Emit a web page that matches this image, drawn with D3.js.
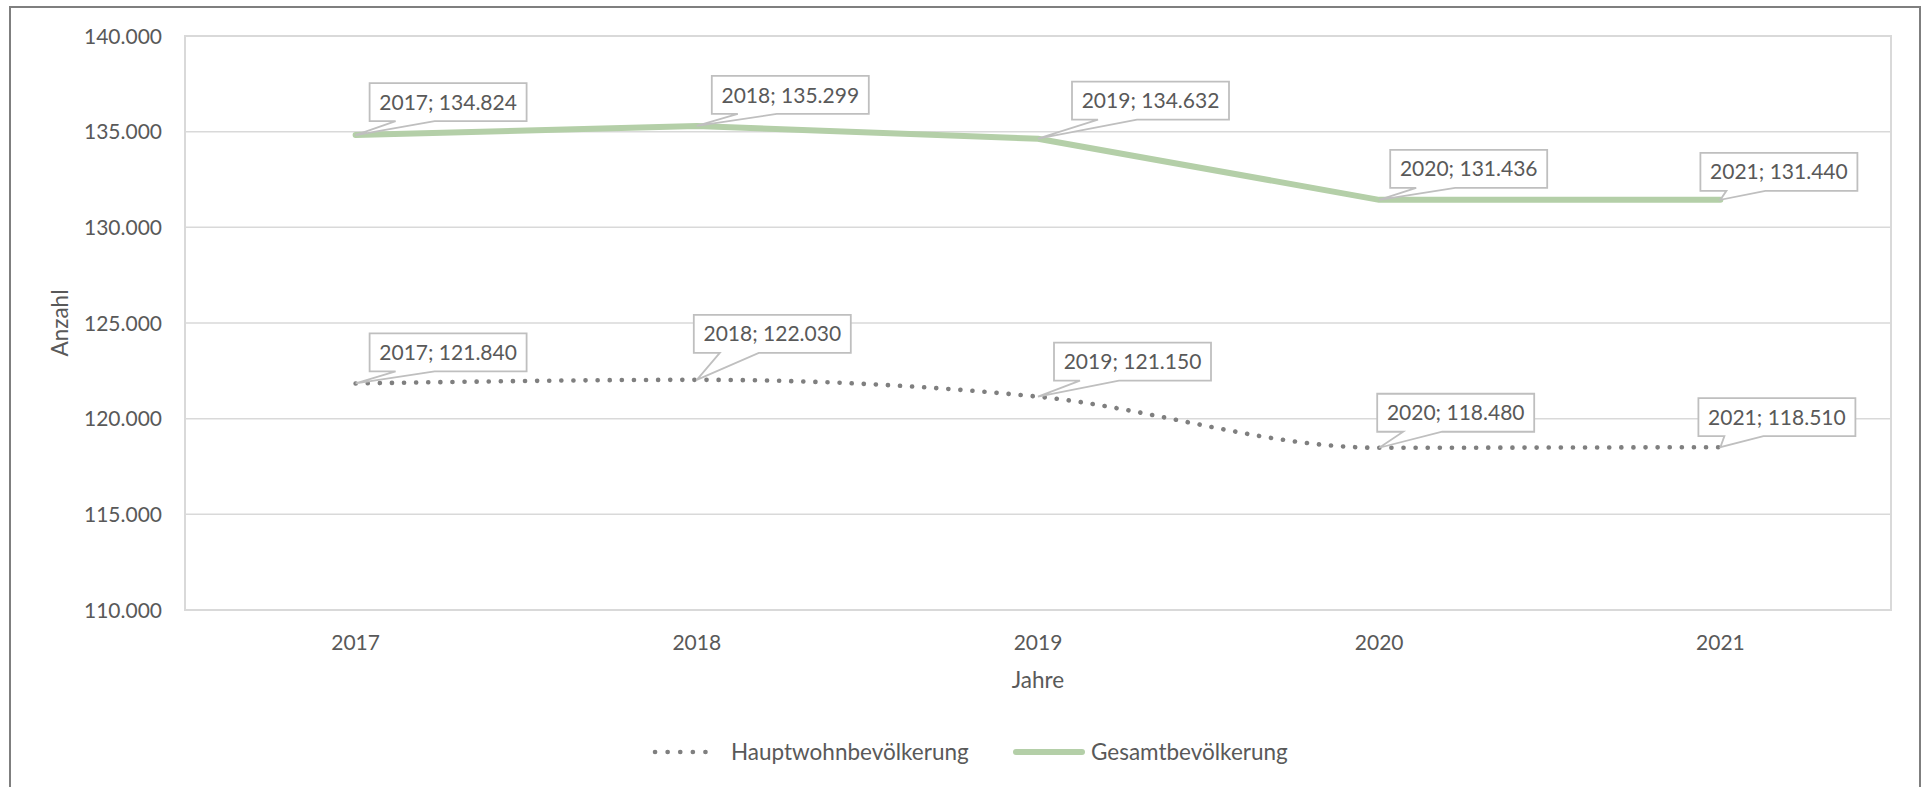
<!DOCTYPE html>
<html><head><meta charset="utf-8">
<script src="https://cdn.jsdelivr.net/npm/d3@7"></script>
<style>
body{margin:0;background:#fff}
svg{display:block}
text{font-family:Lato,'Open Sans',sans-serif;fill:#595959}
</style>
</head><body>
<svg id="c" width="1925" height="787"></svg>
<script>
const years = ["2017","2018","2019","2020","2021"];
const hauptwohn = [121840,122030,121150,118480,118510];
const gesamt = [134824,135299,134632,131436,131440];
const yTicks = [110000,115000,120000,125000,130000,135000,140000];
const seriesNames = ["Hauptwohnbevölkerung","Gesamtbevölkerung"];
const yTitle = "Anzahl";
const xTitle = "Jahre";

// layout: label box offsets relative to each point (box left, box bottom)
const gesamtLabelOffset = [[14,-14],[15,-12],[34,-19],[11,-12],[-20,-9]];
const hauptLabelOffset = [[14,-12],[-3,-27],[16,-16],[-2,-16],[-22,-11]];

const W = 1925, H = 787;
const M = {left:185, right:1891, top:36, bottom:610};
const svg = d3.select("#c");
const de = d3.formatLocale({decimal:",", thousands:".", grouping:[3], currency:["","€"]});
const fmt = de.format(",.0f");

const x = d3.scaleBand().domain(years).range([M.left, M.right]).paddingInner(0).paddingOuter(0);
const cx = d => x(d) + x.bandwidth()/2;
const y = d3.scaleLinear().domain([110000,140000]).range([M.bottom, M.top]);

// outer border
svg.append("rect").attr("x",10).attr("y",7).attr("width",1910).attr("height",H)
  .attr("fill","none").attr("stroke","#7f7f7f").attr("stroke-width",2);

// gridlines
svg.append("g").selectAll("line").data(yTicks).join("line")
  .attr("x1",M.left).attr("x2",M.right)
  .attr("y1",d=>y(d)).attr("y2",d=>y(d))
  .attr("stroke","#d9d9d9").attr("stroke-width",1.5);
svg.append("rect").attr("x",M.left).attr("y",M.top)
  .attr("width",M.right-M.left).attr("height",M.bottom-M.top)
  .attr("fill","none").attr("stroke","#d9d9d9").attr("stroke-width",2);

// y tick labels
svg.append("g").selectAll("text").data(yTicks).join("text")
  .attr("x",162).attr("y",d=>y(d)).attr("dy","0.36em")
  .attr("text-anchor","end").attr("font-size",21).text(d=>fmt(d));

// x tick labels
svg.append("g").selectAll("text").data(years).join("text")
  .attr("x",d=>cx(d)).attr("y",650)
  .attr("text-anchor","middle").attr("font-size",21).text(d=>d);

// axis titles
svg.append("text").attr("transform",`translate(68,${(M.top+M.bottom)/2}) rotate(-90)`)
  .attr("text-anchor","middle").attr("font-size",22.5).text(yTitle);
svg.append("text").attr("x",(M.left+M.right)/2).attr("y",688)
  .attr("text-anchor","middle").attr("font-size",22.5).text(xTitle);

// lines
const lineG = d3.line().x((d,i)=>cx(years[i])).y(d=>y(d));
const lineH = d3.line().x((d,i)=>cx(years[i])).y(d=>y(d)).curve(d3.curveMonotoneX);

svg.append("path").datum(gesamt).attr("d",lineG)
  .attr("fill","none").attr("stroke","#b4cfa8").attr("stroke-width",6)
  .attr("stroke-linecap","round").attr("stroke-linejoin","round");
svg.append("path").datum(hauptwohn).attr("d",lineH)
  .attr("fill","none").attr("stroke","#7f7f7f").attr("stroke-width",4.6)
  .attr("stroke-linecap","round").attr("stroke-dasharray","0.1 12");

// data labels (callouts)
const BW = 157, BH = 38;
function callouts(vals, offs){
  const g = svg.append("g");
  vals.forEach((v,i)=>{
    const px = cx(years[i]), py = y(v);
    const bx = px + offs[i][0], bb = py + offs[i][1], by = bb - BH;
    const p = `M${bx},${by}H${bx+BW}V${bb}H${bx+65}L${px},${py}L${bx+26},${bb}H${bx}Z`;
    g.append("path").attr("d",p).attr("fill","#fff").attr("stroke","#bfbfbf").attr("stroke-width",1.8);
    g.append("text").attr("x",bx+BW/2).attr("y",by+BH/2).attr("dy","0.36em")
      .attr("text-anchor","middle").attr("font-size",21).text(`${years[i]}; ${fmt(v)}`);
  });
}
callouts(gesamt, gesamtLabelOffset);
callouts(hauptwohn, hauptLabelOffset);

// legend
const ly = 752;
const lg = svg.append("g");
lg.append("line").attr("x1",655).attr("x2",718).attr("y1",ly).attr("y2",ly)
  .attr("stroke","#7f7f7f").attr("stroke-width",4.6).attr("stroke-linecap","round").attr("stroke-dasharray","0.1 12.5");
lg.append("text").attr("x",731).attr("y",ly).attr("dy","0.36em").attr("font-size",22.5).text(seriesNames[0]);
lg.append("line").attr("x1",1016).attr("x2",1082).attr("y1",ly).attr("y2",ly)
  .attr("stroke","#b4cfa8").attr("stroke-width",6).attr("stroke-linecap","round");
lg.append("text").attr("x",1091).attr("y",ly).attr("dy","0.36em").attr("font-size",22.5).text(seriesNames[1]);
</script>
</body></html>
